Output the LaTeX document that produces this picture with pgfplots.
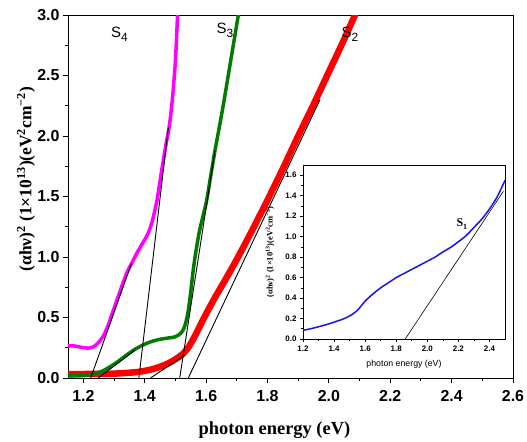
\documentclass[border=0pt]{standalone}
\usepackage{fontspec}
\setmainfont{Liberation Serif}
\setsansfont{Liberation Sans}
\usepackage{pgfplots}
\pgfplotsset{compat=1.18}
\definecolor{cmag}{RGB}{255,0,255}
\definecolor{cgreen}{RGB}{0,125,0}
\definecolor{cred}{RGB}{255,0,0}
\definecolor{cblue}{RGB}{20,20,240}
\begin{document}
\begin{tikzpicture}
\begin{axis}[
  at={(0,0)}, anchor=south west,
  scale only axis, width=445bp, height=363bp,
  xmin=1.15, xmax=2.6, ymin=0, ymax=3,
  xtick={1.2,1.4,1.6,1.8,2.0,2.2,2.4,2.6},
  ytick={0,0.5,1,1.5,2,2.5,3},
  minor x tick num=1, minor y tick num=1,
  tick pos=left, tick align=outside,
  major tick length=5bp, minor tick length=3bp,
  axis line style={line width=0.9pt},
  every tick/.style={line width=0.9pt, black},
  /pgf/number format/assume math mode=true,
  xticklabel style={/pgf/number format/fixed, /pgf/number format/fixed zerofill, /pgf/number format/precision=1, yshift=-4bp},
  yticklabel style={/pgf/number format/fixed, /pgf/number format/fixed zerofill, /pgf/number format/precision=1},
  ticklabel style={font=\fontsize{16}{16}\selectfont\sffamily\bfseries},
  xlabel={photon energy (eV)},
  xlabel style={font=\fontsize{18.5}{18.5}\selectfont\bfseries, at={(axis description cs:0.464,-0.145)}, anchor=center},
  ylabel={(αhν)\textsuperscript{2} (1×10\textsuperscript{13})(eV\textsuperscript{2}cm\textsuperscript{−2})},
  ylabel style={font=\fontsize{17.5}{17.5}\selectfont\bfseries, at={(axis description cs:-0.094,0.548)}, anchor=center, rotate=0},
]
% S2 red
\addplot[cred, line width=6.5bp, smooth] coordinates {
(1.15,0.033)(1.2,0.033)(1.287,0.035)(1.34,0.042)(1.384,0.052)(1.42,0.07)(1.45,0.093)(1.48,0.125)(1.50,0.155)(1.52,0.19)(1.54,0.245)(1.56,0.33)(1.58,0.43)(1.60,0.53)(1.63,0.67)(1.66,0.80)(1.70,0.98)(1.75,1.22)(1.80,1.47)(1.85,1.73)(1.90,2.0)(1.95,2.26)(2.0,2.53)(2.05,2.80)(2.085,3.0)(2.10,3.09)};
% S3 green
\addplot[cgreen, line width=3.5bp, smooth] coordinates {
(1.15,0.017)(1.2,0.022)(1.232,0.033)(1.26,0.055)(1.287,0.093)(1.315,0.14)(1.341,0.19)(1.37,0.24)(1.395,0.273)(1.42,0.30)(1.45,0.32)(1.475,0.33)(1.499,0.34)(1.515,0.365)(1.526,0.40)(1.535,0.47)(1.542,0.56)(1.548,0.67)(1.553,0.78)(1.558,0.89)(1.564,1.0)(1.571,1.11)(1.578,1.21)(1.59,1.34)(1.602,1.47)(1.615,1.67)(1.629,1.88)(1.645,2.10)(1.659,2.30)(1.68,2.62)(1.705,3.0)(1.712,3.1)};
% S4 magenta
\addplot[cmag, line width=3.5bp, smooth] coordinates {
(1.15,0.265)(1.17,0.265)(1.19,0.255)(1.21,0.248)(1.225,0.25)(1.24,0.27)(1.255,0.31)(1.265,0.345)(1.28,0.43)(1.298,0.56)(1.32,0.72)(1.341,0.865)(1.36,0.96)(1.374,1.03)(1.39,1.10)(1.41,1.19)(1.425,1.30)(1.44,1.47)(1.45,1.63)(1.46,1.79)(1.47,1.94)(1.48,2.08)(1.49,2.30)(1.50,2.62)(1.507,3.0)(1.509,3.1)};
% tangent lines
\addplot[black, line width=0.9bp] coordinates {(1.224,0)(1.357,0.948)};
\addplot[black, line width=0.9bp] coordinates {(1.381,0)(1.477,2.07)};
\addplot[black, line width=0.9bp] coordinates {(1.249,0)(1.368,0.23)};
\addplot[black, line width=0.9bp] coordinates {(1.514,0)(1.629,1.88)};
\addplot[black, line width=0.9bp] coordinates {(1.419,0)(1.531,0.19)};
\addplot[black, line width=0.9bp] coordinates {(1.542,0)(1.971,2.30)};
\node[anchor=base west, inner sep=0pt, font=\fontsize{15}{15}\selectfont\sffamily] at (axis cs:1.290,2.816) {S\raisebox{-0.55ex}{\fontsize{12}{12}\selectfont 4}};
\node[anchor=base west, inner sep=0pt, font=\fontsize{15}{15}\selectfont\sffamily] at (axis cs:1.634,2.848) {S\raisebox{-0.55ex}{\fontsize{12}{12}\selectfont 3}};
\node[anchor=base west, inner sep=0pt, font=\fontsize{15}{15}\selectfont\sffamily] at (axis cs:2.041,2.816) {S\raisebox{-0.55ex}{\fontsize{12}{12}\selectfont 2}};
\end{axis}
\begin{axis}[
  at={(235bp,39bp)}, anchor=south west,
  scale only axis, width=202bp, height=174bp,
  xmin=1.2, xmax=2.5, ymin=0, ymax=1.7,
  xtick={1.2,1.4,1.6,1.8,2.0,2.2,2.4},
  ytick={0,0.2,0.4,0.6,0.8,1.0,1.2,1.4,1.6},
  minor x tick num=1, minor y tick num=1,
  tick pos=left, tick align=outside,
  major tick length=3bp, minor tick length=2bp,
  axis line style={line width=0.7pt},
  every tick/.style={line width=0.6pt, black},
  axis background/.style={fill=white},
  /pgf/number format/assume math mode=true,
  xticklabel style={/pgf/number format/fixed, /pgf/number format/fixed zerofill, /pgf/number format/precision=1},
  yticklabel style={/pgf/number format/fixed, /pgf/number format/fixed zerofill, /pgf/number format/precision=1},
  ticklabel style={font=\fontsize{8}{8}\selectfont\sffamily\bfseries},
  xlabel={photon energy (eV)},
  xlabel style={font=\fontsize{8.8}{8.8}\selectfont\sffamily, at={(axis description cs:0.5,-0.144)}, anchor=center},
  ylabel={(αhν)\textsuperscript{2} (1×10\textsuperscript{13})(eV\textsuperscript{2}cm\textsuperscript{−2})},
  ylabel style={font=\fontsize{8.5}{8.5}\selectfont\bfseries, at={(axis description cs:-0.163,0.5)}, anchor=center},
]
\addplot[cblue, line width=1.5bp, smooth] coordinates {
(1.2,0.085)(1.25,0.10)(1.3,0.12)(1.35,0.14)(1.4,0.165)(1.45,0.19)(1.5,0.225)(1.55,0.28)(1.6,0.37)(1.65,0.44)(1.7,0.50)(1.75,0.55)(1.8,0.60)(1.85,0.64)(1.9,0.68)(1.95,0.72)(2.0,0.76)(2.05,0.80)(2.1,0.85)(2.15,0.895)(2.2,0.95)(2.25,1.01)(2.3,1.09)(2.35,1.17)(2.4,1.27)(2.45,1.39)(2.5,1.55)};
\addplot[black, line width=0.6pt] coordinates {(1.858,0)(2.49,1.444)};
\node[anchor=base west, inner sep=0pt, font=\fontsize{12}{12}\selectfont\bfseries] at (axis cs:2.187,1.10) {S\raisebox{-0.5ex}{\fontsize{8}{8}\selectfont 1}};
\end{axis}
\pgfresetboundingbox
\path[use as bounding box] (-68bp,-64bp) rectangle (459bp,378bp);
\end{tikzpicture}
\end{document}
